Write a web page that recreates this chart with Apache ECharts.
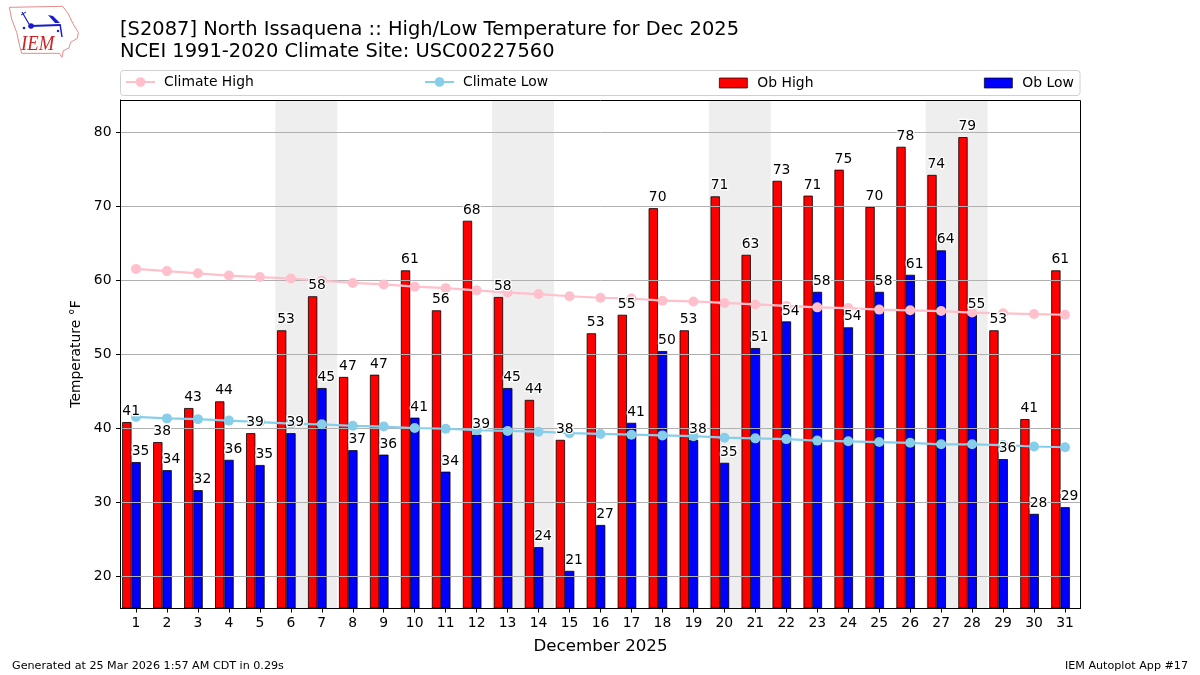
<!DOCTYPE html>
<html><head><meta charset="utf-8">
<style>html,body{margin:0;padding:0;background:#fff}#c{width:1200px;height:675px}</style>
<script src="https://cdn.jsdelivr.net/npm/echarts@6/dist/echarts.min.js"></script>
</head><body><div id="c"></div>
<script>
const days = ['1','2','3','4','5','6','7','8','9','10','11','12','13','14','15','16','17','18','19','20','21','22','23','24','25','26','27','28','29','30','31'];
const obHigh = [40.8,38.1,42.7,43.6,39.3,53.2,57.8,46.9,47.2,61.3,55.9,68,57.7,43.8,38.4,52.8,55.3,69.7,53.2,71.3,63.4,73.4,71.4,74.9,69.9,78,74.2,79.3,53.2,41.2,61.3];
const obLow = [35.4,34.3,31.6,35.7,35,39.3,45.4,37,36.4,41.4,34.1,39.1,45.4,23.9,20.7,26.9,40.7,50.4,38.4,35.3,50.8,54.4,58.4,53.6,58.4,60.7,64,55.3,35.8,28.4,29.3];
const climateHigh = [61.5,61.2,60.9,60.6,60.4,60.2,59.9,59.6,59.4,59.1,58.9,58.6,58.3,58.1,57.8,57.6,57.5,57.2,57.1,56.9,56.7,56.5,56.3,56.2,56.0,55.9,55.8,55.6,55.5,55.4,55.3];
const climateLow = [41.5,41.3,41.2,41.0,40.8,40.6,40.5,40.3,40.2,40.0,39.9,39.7,39.6,39.5,39.3,39.2,39.1,39.0,38.9,38.7,38.6,38.5,38.3,38.2,38.1,38.0,37.8,37.8,37.7,37.5,37.4];
const yTicks = [20,30,40,50,60,70,80];
const weekends = [[5.5,7.5],[12.5,14.5],[19.5,21.5],[26.5,28.5]];
const FONT = 'DejaVu Sans';
const chart = echarts.init(document.getElementById('c'), null, {renderer:'canvas'});
const legendAt = (name,left,extra) => Object.assign({
  data:[name], left, top:75, itemWidth:29, itemHeight:12, itemGap:0, padding:0, selectedMode:false,
  textStyle:{fontFamily:FONT,fontSize:13.9,color:'#000',padding:[0,0,0,4]}
},extra||{});
const barLegend = {icon:'rect',itemWidth:28,itemHeight:10,top:76,itemStyle:{borderWidth:0.7,borderColor:'#000'},
  textStyle:{fontFamily:FONT,fontSize:13.9,color:'#000',padding:[0,0,0,5]}};
const labelSeries = (name,data,dx) => ({
  name, type:'scatter', data, symbolSize:1, z:8, silent:true,
  itemStyle:{color:'transparent',opacity:1},
  label:{show:true,position:'top',distance:3,offset:[dx,0],fontFamily:FONT,fontSize:13.9,color:'#000',opacity:1,
    textBorderColor:'#fff',textBorderWidth:2.5,formatter:p=>String(Math.round(p.value))}
});
const iowa = [[28,22],[188,19],[205,42],[222,77],[235,97],[232,115],[212,127],[207,144],[190,152],[186,172],[178,160],[65,160],[60,142],[50,97],[35,57]].map(p=>[p[0]/3,p[1]/3]);
const BLUE = '#1a1ad0';
chart.setOption({
  animation:false,
  backgroundColor:'#fff',
  title:[
    {text:'[S2087] North Issaquena :: High/Low Temperature for Dec 2025\nNCEI 1991-2020 Climate Site: USC00227560',left:120,top:19,padding:0,
     textStyle:{fontFamily:FONT,fontSize:19.46,fontWeight:'normal',color:'#000',lineHeight:22}},
    {text:'Generated at 25 Mar 2026 1:57 AM CDT in 0.29s',left:12,top:661,padding:0,textStyle:{fontFamily:FONT,fontSize:11.15,fontWeight:'normal',color:'#000'}},
    {text:'IEM Autoplot App #17',right:12,top:661,padding:0,textStyle:{fontFamily:FONT,fontSize:11.15,fontWeight:'normal',color:'#000'}}
  ],
  legend:[legendAt('Climate High',125),legendAt('Climate Low',424),
    legendAt('Ob High',719,barLegend),
    legendAt('Ob Low',984,barLegend)],
  grid:{left:120.5,width:960,top:100,height:508,show:true,borderWidth:0,backgroundColor:'#fff'},
  xAxis:[
    {type:'category',data:days,z:3,name:'December 2025',nameLocation:'middle',nameGap:30,
     nameTextStyle:{fontFamily:FONT,fontSize:16.67,color:'#000'},
     axisLine:{show:true,lineStyle:{color:'#000',width:1}},
     axisTick:{show:true,alignWithLabel:true,length:4.5,lineStyle:{color:'#000'}},
     axisLabel:{interval:0,fontFamily:FONT,fontSize:13.9,color:'#000',margin:8},splitLine:{show:false}},
    {type:'value',min:0.5,max:31.5,show:false,position:'top'}
  ],
  yAxis:{type:'value',min:15.68,max:84.32,z:3,name:'Temperature °F',nameLocation:'middle',nameGap:32,
     nameTextStyle:{fontFamily:FONT,fontSize:13.9,color:'#000'},
     axisLine:{show:true,lineStyle:{color:'#000',width:1}},
     axisTick:{show:true,length:4.5,lineStyle:{color:'#000'},customValues:yTicks},
     axisLabel:{fontFamily:FONT,fontSize:13.9,color:'#000',margin:9,customValues:yTicks},
     splitLine:{show:true,lineStyle:{color:'#b0b0b0',width:1}}},
  series:[
    {name:'Weekend',type:'scatter',xAxisIndex:1,data:[],z:1,silent:true,
     markArea:{silent:true,itemStyle:{color:'#eeeeee'},label:{show:false},data:weekends.map(w=>[{xAxis:w[0]},{xAxis:w[1]}])}},
    {name:'Ob High',type:'bar',data:obHigh,barWidth:9.29,barGap:'0%',z:2,itemStyle:{color:'#ff0000',borderColor:'#000',borderWidth:0.8}},
    {name:'Ob Low',type:'bar',data:obLow,barWidth:9.29,barGap:'0%',z:2,itemStyle:{color:'#0000ff',borderColor:'#000',borderWidth:0.8}},
    {name:'Offset',type:'bar',data:[],barWidth:9,barGap:'0%',z:2},
    {name:'Climate High',type:'line',data:climateHigh,z:5,symbol:'circle',symbolSize:10,showAllSymbol:true,itemStyle:{color:'#ffc0cb'},lineStyle:{color:'#ffc0cb',width:2.2}},
    {name:'Climate Low',type:'line',data:climateLow,z:5,symbol:'circle',symbolSize:10,showAllSymbol:true,itemStyle:{color:'#87ceeb'},lineStyle:{color:'#87ceeb',width:2.2}},
    labelSeries('High labels',obHigh,-4.8),
    labelSeries('Low labels',obLow,4.5)
  ],
  graphic:[
    {type:'rect',z:-1,shape:{x:120.5,y:70.5,width:959.5,height:25,r:3},style:{fill:'#fff',stroke:'#d0d0d0',lineWidth:1}},
    {type:'rect',z:50,shape:{x:120.5,y:100.5,width:960,height:508},style:{fill:'none',stroke:'#000',lineWidth:1}},
    {type:'polygon',shape:{points:iowa},style:{fill:'#fff',stroke:'#e88a8a',lineWidth:1}},
    {type:'line',shape:{x1:31,y1:26,x2:60,y2:25},style:{stroke:BLUE,lineWidth:2}},
    {type:'circle',shape:{cx:31,cy:26,r:2.8},style:{fill:BLUE}},
    {type:'polygon',shape:{points:[[48,15],[53,16],[60,23],[55,23]]},style:{fill:BLUE}},
    {type:'line',shape:{x1:22,y1:12,x2:29,y2:24},style:{stroke:BLUE,lineWidth:1.2}},
    {type:'line',shape:{x1:21,y1:15,x2:26,y2:12},style:{stroke:BLUE,lineWidth:1}},
    {type:'line',shape:{x1:60,y1:24,x2:62,y2:37},style:{stroke:BLUE,lineWidth:1.5}},
    {type:'circle',shape:{cx:58,cy:31,r:1.2},style:{fill:BLUE}},
    {type:'circle',shape:{cx:24,cy:28,r:1.3},style:{fill:BLUE}},
    {type:'text',x:21,y:33,scaleX:0.85,style:{text:'IEM',fontFamily:'Liberation Serif',fontStyle:'italic',fontSize:22,fill:'#cc2222'}}
  ]
});
</script></body></html>
